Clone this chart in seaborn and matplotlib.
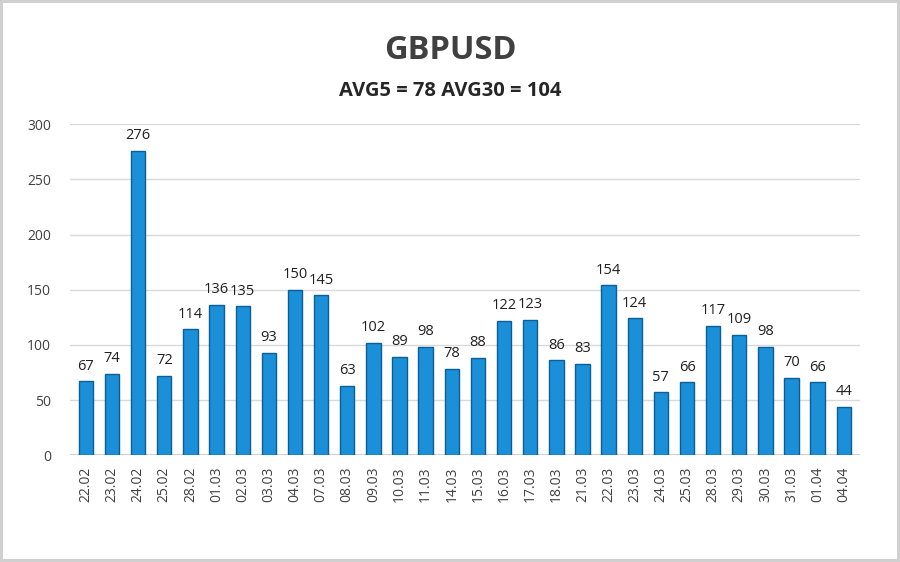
import matplotlib
matplotlib.use('Agg')
import matplotlib.pyplot as plt
import seaborn as sns
import pandas as pd

# data
dates = ['22.02', '23.02', '24.02', '25.02', '28.02', '01.03', '02.03', '03.03',
         '04.03', '07.03', '08.03', '09.03', '10.03', '11.03', '14.03', '15.03',
         '16.03', '17.03', '18.03', '21.03', '22.03', '23.03', '24.03', '25.03',
         '28.03', '29.03', '30.03', '31.03', '01.04', '04.04']
volatility = [67, 74, 276, 72, 114, 136, 135, 93, 150, 145, 63, 102, 89, 98, 78,
              88, 122, 123, 86, 83, 154, 124, 57, 66, 117, 109, 98, 70, 66, 44]
title = 'GBPUSD'
subtitle = 'AVG5 = 78 AVG30 = 104'

sns.set_style('white')
plt.rcParams['font.family'] = ['Open Sans', 'DejaVu Sans']

df = pd.DataFrame({'date': dates, 'value': volatility})

fig = plt.figure(figsize=(9, 5.62), dpi=100)
fig.patch.set_edgecolor('#d0d0d0')
fig.patch.set_linewidth(3)
ax = fig.add_axes([0.078, 0.19, 0.877, 0.589])

sns.barplot(data=df, x='date', y='value', color='#1b8fd8', width=0.55,
            edgecolor='#0b5e96', linewidth=1.0, saturation=1, ax=ax)

for i, v in enumerate(volatility):
    ax.text(i, v + 7, str(v), ha='center', va='bottom', fontsize=10.5, color='#202020')

ax.set_ylim(0, 300)
ax.set_yticks(range(0, 301, 50))
ax.yaxis.grid(True, color='#d9d9d9', linewidth=1)
ax.set_axisbelow(True)
ax.set_xlim(-0.6, len(dates) - 0.4)
for s in ax.spines.values():
    s.set_visible(False)
ax.axhline(0, color='#d0d0d0', linewidth=1.5, zorder=0)
ax.set_xlabel('')
ax.set_ylabel('')
ax.tick_params(axis='x', rotation=90, labelsize=10, colors='#404040', length=0, pad=8)
ax.tick_params(axis='y', labelsize=10, colors='#404040', length=0, pad=14)

fig.text(0.5, 0.91, title, ha='center', va='center', fontsize=23.5, fontweight='bold', color='#404040')
fig.text(0.5, 0.838, subtitle, ha='center', va='center', fontsize=14.5, fontweight='bold', color='#262626')

fig.savefig('out.png', dpi=100)
